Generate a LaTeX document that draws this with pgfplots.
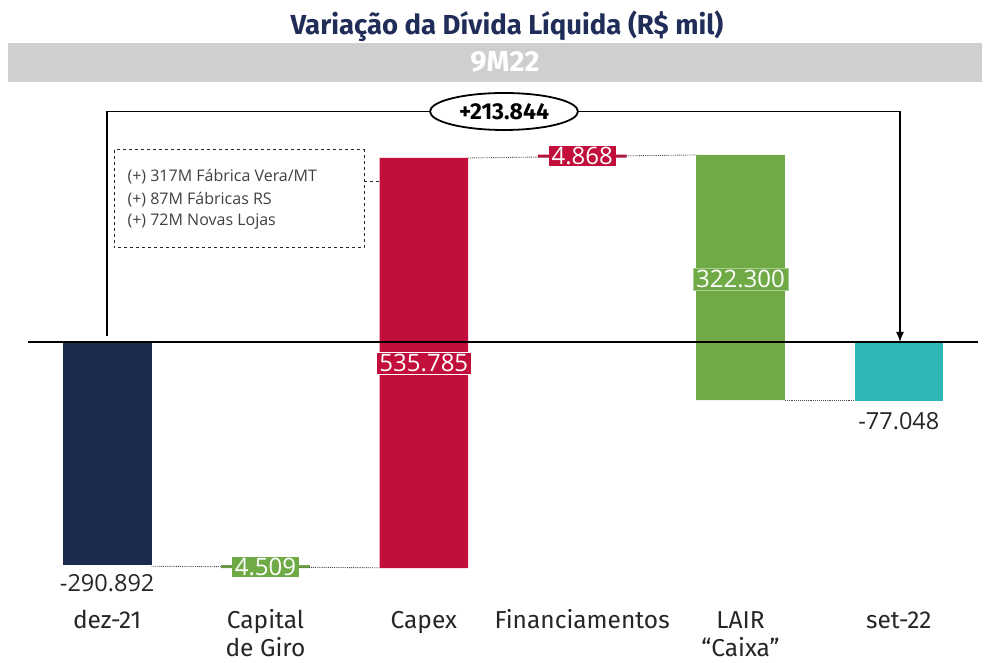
\documentclass[border=0pt]{standalone}
\usepackage{fontspec}
\setmainfont{Fira Sans}
\newfontfamily\labfont{Open Sans}
\usepackage{pgfplots}
\pgfplotsset{compat=1.18}
\usetikzlibrary{arrows.meta,shapes.geometric}
\definecolor{titlenavy}{RGB}{31,45,88}
\definecolor{bandgray}{RGB}{208,207,207}
\definecolor{cnavy}{RGB}{28,42,75}
\definecolor{cred}{RGB}{194,14,58}
\definecolor{cgreen}{RGB}{111,170,70}
\definecolor{cteal}{RGB}{47,181,181}
\definecolor{ctext}{RGB}{64,64,64}
\begin{document}
\begin{tikzpicture}[x=1pt,y=1pt]
\useasboundingbox (0,0) rectangle (989,663);
\node[anchor=base, font=\fontsize{27.5}{30}\selectfont\bfseries, text=titlenavy] at (507,628) {Variação da Dívida Líquida (R\$ mil)};
\fill[bandgray] (8,581) rectangle (982,620);
\node[anchor=base, font=\fontsize{29}{32}\selectfont\bfseries, text=white] at (505,591) {9M22};
\begin{axis}[
  at={(28pt,68pt)}, anchor=south west, scale only axis,
  width=950pt, height=483pt,
  xmin=-0.5, xmax=5.5, ymin=-330, ymax=300,
  ybar stacked, stack negative=on previous, bar width=0.56, clip=false,
  axis line style={draw=none}, ytick=\empty,
  xtick={0,1,2,3,4,5},
  xticklabels={{dez-21\\\mbox{}},{Capital\\de Giro},{Capex\\\mbox{}},{Financiamentos\\\mbox{}},{LAIR\\“Caixa”},{set-22\\\mbox{}}},
  xticklabel style={align=center, font=\fontsize{24.5}{28.5}\selectfont, text=black!85, anchor=base, yshift=-62pt},
  major tick length=0pt,
]
\addplot[draw=none, fill=none] coordinates {(0,0) (1,-290.9) (2,-294.8) (3,240.5) (4,-75.7) (5,0)};
\addplot[draw=none, fill=cnavy] coordinates {(0,-290.9) (1,0) (2,0) (3,0) (4,0) (5,0)};
\addplot[draw=none, fill=cgreen] coordinates {(0,0) (1,-3.9) (2,0) (3,0) (4,319.7) (5,0)};
\addplot[draw=none, fill=cred] coordinates {(0,0) (1,0) (2,534.8) (3,4.0) (4,0) (5,0)};
\addplot[draw=none, fill=cteal] coordinates {(0,0) (1,0) (2,0) (3,0) (4,0) (5,-77.0)};
\coordinate (z0) at (axis cs:-0.5,0);
\coordinate (z1) at (axis cs:5.5,0);
\coordinate (c1a) at (axis cs:0.28,-292.5);
\coordinate (c1b) at (axis cs:1.72,-294.5);
\coordinate (c2a) at (axis cs:2.28,240.0);
\coordinate (c2b) at (axis cs:3.72,244.0);
\coordinate (c3a) at (axis cs:4.28,-76.5);
\coordinate (c3b) at (axis cs:4.72,-76.5);
\coordinate (l0) at (axis cs:0,-314);
\coordinate (l5) at (axis cs:5,-103);
\coordinate (l2) at (axis cs:2,-27.4);
\coordinate (l4) at (axis cs:4,82.2);
\coordinate (l3) at (axis cs:3,242.6);
\coordinate (l1) at (axis cs:1,-293.5);
\end{axis}
% zero line
\draw[black, line width=1.2pt] (z0) -- (z1);
% connectors
\draw[densely dotted, line width=0.9pt, black!70] (c1a) -- (c1b);
\draw[densely dotted, line width=0.9pt, black!70] (c2a) -- (c2b);
\draw[densely dotted, line width=0.9pt, black!70] (c3a) -- (c3b);
% value labels
\node[font=\labfont\fontsize{23.5}{26}\selectfont, text=black!85] at (l0) {-290.892};
\node[font=\labfont\fontsize{23.5}{26}\selectfont, text=black!85] at (l5) {-77.048};
\node[font=\labfont\fontsize{24}{26}\selectfont, text=white, fill=cred, draw=white, line width=0.6pt, inner xsep=3pt, inner ysep=2pt] at (l2) {535.785};
\node[font=\labfont\fontsize{24}{26}\selectfont, text=white, fill=cgreen, draw=cgreen!60!white, line width=0.6pt, inner xsep=3pt, inner ysep=2pt] at (l4) {322.300};
\node[font=\labfont\fontsize{24}{26}\selectfont, text=white, fill=cred, inner xsep=3pt, inner ysep=1.5pt] at (l3) {4.868};
\node[font=\labfont\fontsize{24}{26}\selectfont, text=white, fill=cgreen, inner xsep=3pt, inner ysep=1.5pt] at (l1) {4.509};
% annotation box
\draw[dashed, line width=1pt, black!85] (114,513) rectangle (364,415);
\draw[dashed, line width=1pt, black!85] (364,481) -- (380,481);
\node[anchor=west, font=\labfont\fontsize{16}{19}\selectfont, text=ctext] at (124,486) {(+) 317M Fábrica Vera/MT};
\node[anchor=west, font=\labfont\fontsize{16}{19}\selectfont, text=ctext] at (124,463) {(+) 87M Fábricas RS};
\node[anchor=west, font=\labfont\fontsize{16}{19}\selectfont, text=ctext] at (124,441) {(+) 72M Novas Lojas};
% bracket
\draw[line width=1.4pt] (107,327) -- (107,551.5) -- (900,551.5) -- (900,330);
\draw[line width=1.4pt, -{Latex[length=10pt,width=8pt]}] (900,340) -- (900,321);
\node[draw=black, line width=1.8pt, fill=white, ellipse, minimum width=148pt, minimum height=37pt, inner sep=0pt, font=\fontsize{23}{26}\selectfont\bfseries] at (504,551.5) {+213.844};
\end{tikzpicture}
\end{document}
